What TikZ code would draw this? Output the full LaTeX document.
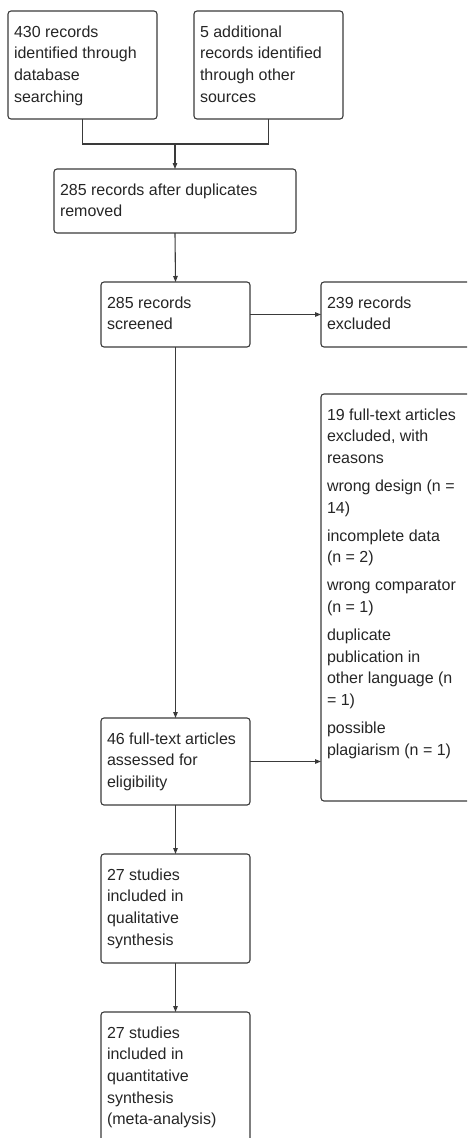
\documentclass[tikz,border=0pt]{standalone}
\usepackage{fontspec}
\setmainfont{Liberation Sans}
\usetikzlibrary{arrows.meta,calc}
\definecolor{linec}{HTML}{3A3A3A}
\definecolor{textc}{HTML}{252525}
\newcommand\bt[3]{\parbox[c][#2][t]{#1}{\setlength{\parskip}{6.3pt}\raggedright\rule{0pt}{26pt}#3}}
\tikzset{
  box/.style={draw=linec, line width=1.1pt, rounded corners=3pt, rectangle, anchor=north west,
    inner xsep=6pt, inner ysep=0pt, outer sep=0pt, text=textc,
    font=\fontsize{16pt}{21.7pt}\selectfont},
  conn/.style={draw=linec, line width=1.1pt},
  arr/.style={conn, -{Triangle[length=6pt,width=4.5pt]}}
}
\begin{document}
\begin{tikzpicture}[x=1pt,y=-1pt]
\useasboundingbox (0,0) rectangle (467,1138);
\clip (0,0) rectangle (467,1138);
\node[box] (b1) at (8,11) {\bt{137pt}{108pt}{430 records\\identified through\\database\\searching}};
\node[box] (b2) at (194,11) {\bt{137pt}{108pt}{5 additional\\records identified\\through other\\sources}};
\node[box] (b3) at (54,169) {\bt{230pt}{64pt}{285 records after duplicates\\removed}};
\node[box] (b4) at (101,282) {\bt{137pt}{65pt}{285 records\\screened}};
\node[box] (b5) at (321,282) {\bt{150pt}{65pt}{239 records\\excluded}};
\node[box] (b6) at (321,394) {\bt{150pt}{407pt}{19 full-text articles\\excluded, with\\reasons\par wrong design (n =\\14)\par incomplete data\\(n = 2)\par wrong comparator\\(n = 1)\par duplicate\\publication in\\other language (n\\= 1)\par possible\\plagiarism (n = 1)}};
\node[box] (b7) at (101,718) {\bt{137pt}{87pt}{46 full-text articles\\assessed for\\eligibility}};
\node[box] (b8) at (101,854) {\bt{137pt}{109pt}{27 studies\\included in\\qualitative\\synthesis}};
\node[box] (b9) at (101,1012) {\bt{137pt}{140pt}{27 studies\\included in\\quantitative\\synthesis\\(meta-analysis)}};
\coordinate (j) at (b3.north |- 0,144);
\draw[conn] (b1.south) |- (j) -| (b2.south);
\draw[arr] (j) -- (b3.north);
\draw[arr] (b3.south) -- (b4.north);
\draw[arr] (b4.east) -- (b5.west |- b4.east);
\draw[arr] (b4.south) -- (b7.north);
\draw[arr] (b7.east) -- (b6.west |- b7.east);
\draw[arr] (b7.south) -- (b8.north);
\draw[arr] (b8.south) -- (b9.north);
\end{tikzpicture}
\end{document}
